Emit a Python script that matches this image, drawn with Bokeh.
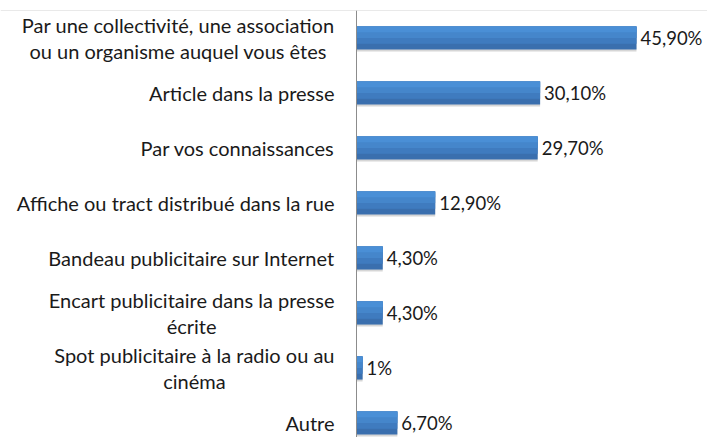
from bokeh.plotting import figure
from bokeh.models import ColumnDataSource, Range1d, Span
from bokeh.transform import dodge
from bokeh.core.properties import value
from bokeh.embed import file_html
from bokeh.resources import INLINE

categories = [
    "Par une collectivité, une association\nou un organisme auquel vous êtes",
    "Article dans la presse",
    "Par vos connaissances",
    "Affiche ou tract distribué dans la rue",
    "Bandeau publicitaire sur Internet",
    "Encart publicitaire dans la presse\nécrite",
    "Spot publicitaire à la radio ou au\ncinéma",
    "Autre",
]
values = [45.9, 30.1, 29.7, 12.9, 4.3, 4.3, 1.0, 6.7]
value_labels = ["45,90%", "30,10%", "29,70%", "12,90%", "4,30%", "4,30%", "1%", "6,70%"]
positions = list(range(len(categories)))

src = ColumnDataSource(dict(pos=positions, val=values, cat=categories, vlab=value_labels,
                            zero=[0] * len(values)))

FONT = "Lato"
px_per_unit = 6.1
W, H = 707, 437
top = 10
axis_px = 356
row_px = 55.0
bar_h = 0.42

p = figure(width=W, height=H, output_backend="svg", toolbar_location=None,
           x_range=Range1d(-axis_px / px_per_unit, (W - axis_px) / px_per_unit),
           y_range=Range1d(-0.5 + (H - top) / row_px, -0.5),
           min_border_left=0, min_border_right=0, min_border_top=top, min_border_bottom=0)
p.xaxis.visible = False
p.yaxis.visible = False
p.xgrid.visible = False
p.ygrid.visible = False
p.outline_line_color = None
p.background_fill_color = "white"
p.border_fill_color = "white"

p.add_layout(Span(location=-0.5, dimension="width", line_color="#d4d4d4", line_width=1))

# soft shadow under the bars
p.hbar(y=dodge("pos", 0.035, range=p.y_range), left="zero", right="val", height=bar_h,
       source=src, fill_color="#d6d6d6", line_color=None)
# bar body with a simple vertical gradient (dark bottom -> light top)
p.hbar(y="pos", left="zero", right="val", height=bar_h, source=src,
       fill_color="#3a6fae", line_color=None)
p.hbar(y=dodge("pos", -bar_h * 0.125, range=p.y_range), left="zero", right="val",
       height=bar_h * 0.75, source=src, fill_color="#3f7bbf", line_color=None)
p.hbar(y=dodge("pos", -bar_h * 0.25, range=p.y_range), left="zero", right="val",
       height=bar_h * 0.5, source=src, fill_color="#4586cb", line_color=None)
p.hbar(y=dodge("pos", -bar_h * 0.375, range=p.y_range), left="zero", right="val",
       height=bar_h * 0.25, source=src, fill_color="#4a8fd6", line_color=None)

p.add_layout(Span(location=0, dimension="height", line_color="#8c8c8c", line_width=1))

p.text(x="val", y="pos", text="vlab", source=src, x_offset=4,
       text_font=value(FONT), text_font_size="18.5px", text_color="#1a1a1a",
       text_baseline="middle", text_align="left")

p.text(x="zero", y="pos", text="cat", source=src, x_offset=-22,
       anchor="center_right", text_align="center", text_baseline="middle",
       text_line_height=1.1,
       text_font=value(FONT), text_font_size="20px", text_color="#1a1a1a")

open("out.html", "w").write(file_html(p, INLINE))
